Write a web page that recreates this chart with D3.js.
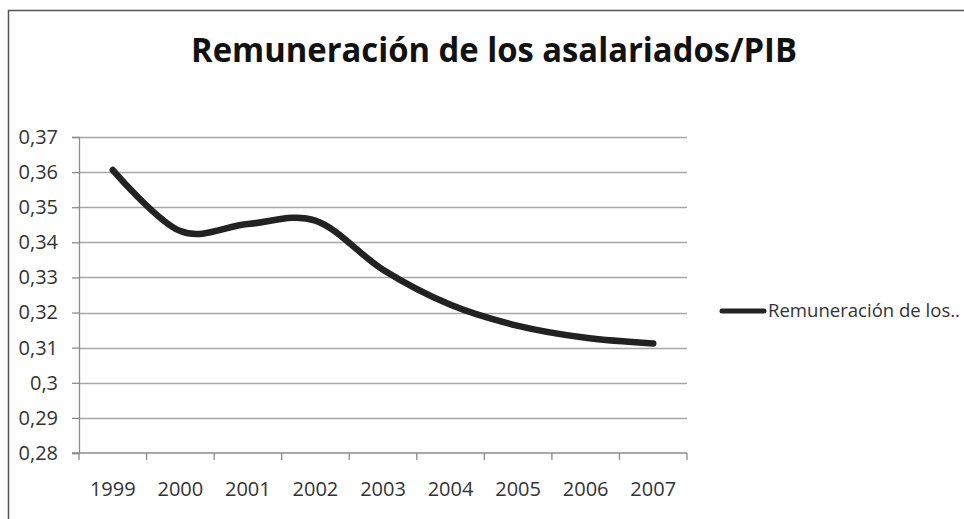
<!DOCTYPE html>
<html>
<head>
<meta charset="utf-8">
<script src="https://cdn.jsdelivr.net/npm/d3@7"></script>
<style>
  body { margin: 0; background: #fff; }
  svg { display: block; font-family: "Open Sans", "Liberation Sans", sans-serif; }
</style>
</head>
<body>
<div id="chart"></div>
<script>
// data
var years = ['1999', '2000', '2001', '2002', '2003', '2004', '2005', '2006', '2007'];
var ratio = [0.3606, 0.3432, 0.3452, 0.3462, 0.3322, 0.3222, 0.3162, 0.3128, 0.3112];
var yTicks = [0.28, 0.29, 0.30, 0.31, 0.32, 0.33, 0.34, 0.35, 0.36, 0.37];
var seriesName = 'Remuneración de los..';
var chartTitle = 'Remuneración de los asalariados/PIB';

var width = 964;
var height = 519;
var margin = { top: 137, left: 79, right: 277, bottom: 66 };

var svg = d3.select('#chart')
    .append('svg')
    .attr('width', width)
    .attr('height', height);

// frame (only top and left edges are visible in the crop)
svg.append('path')
    .attr('d', 'M8.5,' + height + 'V10.5H' + width)
    .attr('fill', 'none')
    .attr('stroke', '#555')
    .attr('stroke-width', 1.5);

// title
svg.append('text')
    .attr('x', 494)
    .attr('y', 62)
    .attr('text-anchor', 'middle')
    .attr('font-size', 34)
    .attr('font-weight', 'bold')
    .attr('fill', '#111')
    .attr('textLength', 606)
    .attr('lengthAdjust', 'spacingAndGlyphs')
    .text(chartTitle);

var x_scale = d3.scaleBand()
    .domain(years)
    .range([margin.left, width - margin.right]);

var y_scale = d3.scaleLinear()
    .domain([0.28, 0.37])
    .range([height - margin.bottom, margin.top]);

var fmt = function(d) { return d3.format('.2~f')(d).replace('.', ','); };

// gridlines
svg.append('g')
    .selectAll('line')
    .data(yTicks.slice(1))
    .enter()
    .append('line')
    .attr('x1', margin.left)
    .attr('x2', width - margin.right)
    .attr('y1', function(d) { return Math.round(y_scale(d)) + 0.5; })
    .attr('y2', function(d) { return Math.round(y_scale(d)) + 0.5; })
    .attr('stroke', '#a6a6a6')
    .attr('stroke-width', 1.3);

// y axis
var y_axis = d3.axisLeft(y_scale)
    .tickValues(yTicks)
    .tickSize(7)
    .tickPadding(14)
    .tickFormat(fmt);

var yg = svg.append('g')
    .attr('transform', 'translate(' + margin.left + ',0)')
    .call(y_axis);

// x axis, ticks between categories
var xg = svg.append('g')
    .attr('transform', 'translate(0,' + (height - margin.bottom) + ')');

xg.append('line')
    .attr('x1', margin.left - 7)
    .attr('x2', width - margin.right)
    .attr('stroke', '#8c8c8c')
    .attr('stroke-width', 1.3);

xg.selectAll('.xtick')
    .data(years.concat(['end']))
    .enter()
    .append('line')
    .attr('class', 'xtick')
    .attr('x1', function(d, i) { return margin.left + i * x_scale.step(); })
    .attr('x2', function(d, i) { return margin.left + i * x_scale.step(); })
    .attr('y1', 0)
    .attr('y2', 7)
    .attr('stroke', '#8c8c8c')
    .attr('stroke-width', 1.3);

xg.selectAll('.xlabel')
    .data(years)
    .enter()
    .append('text')
    .attr('class', 'xlabel')
    .attr('x', function(d) { return x_scale(d) + x_scale.bandwidth() / 2; })
    .attr('y', 43)
    .attr('text-anchor', 'middle')
    .attr('font-size', 20)
    .attr('fill', '#333')
    .text(function(d) { return d; });

yg.select('.domain').attr('stroke', '#8c8c8c').attr('stroke-width', 1.3);
yg.selectAll('.tick line').attr('stroke', '#8c8c8c').attr('stroke-width', 1.3);
yg.selectAll('.tick text')
    .attr('font-size', 20)
    .attr('fill', '#333')
    .attr('font-family', '"Open Sans", sans-serif');

// smoothed line
var line = d3.line()
    .x(function(d, i) { return x_scale(years[i]) + x_scale.bandwidth() / 2; })
    .y(function(d) { return y_scale(d); })
    .curve(d3.curveCardinal.tension(0));

svg.append('path')
    .datum(ratio)
    .attr('d', line)
    .attr('fill', 'none')
    .attr('stroke', '#222')
    .attr('stroke-width', 6.5)
    .attr('stroke-linecap', 'round')
    .attr('stroke-linejoin', 'round');

// legend
var legend = svg.append('g')
    .attr('transform', 'translate(722,311)');

legend.append('line')
    .attr('x1', 0)
    .attr('x2', 42)
    .attr('stroke', '#222')
    .attr('stroke-width', 5)
    .attr('stroke-linecap', 'round');

legend.append('text')
    .attr('x', 46)
    .attr('y', 6)
    .attr('font-size', 19)
    .attr('fill', '#333')
    .attr('textLength', 192)
    .attr('lengthAdjust', 'spacingAndGlyphs')
    .text(seriesName);
</script>
</body>
</html>
